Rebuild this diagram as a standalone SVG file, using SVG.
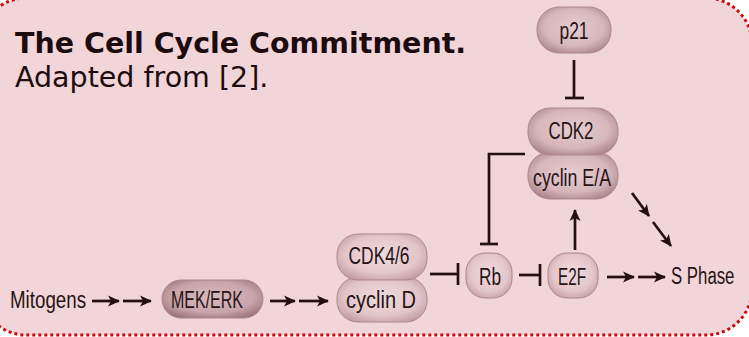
<svg xmlns="http://www.w3.org/2000/svg" width="749" height="337" viewBox="0 0 749 337">
  <defs>
    <radialGradient id="pillLight" cx="50%" cy="45%" r="62%">
      <stop offset="0%" stop-color="#efdadd"/>
      <stop offset="65%" stop-color="#e4c6ca"/>
      <stop offset="100%" stop-color="#c29ba1"/>
    </radialGradient>
    <radialGradient id="pillMid" cx="50%" cy="45%" r="62%">
      <stop offset="0%" stop-color="#e6cdd1"/>
      <stop offset="65%" stop-color="#d6b6bb"/>
      <stop offset="100%" stop-color="#a98288"/>
    </radialGradient>
    <radialGradient id="pillDark" cx="50%" cy="45%" r="62%">
      <stop offset="0%" stop-color="#d9b9be"/>
      <stop offset="65%" stop-color="#c9a5ab"/>
      <stop offset="100%" stop-color="#9b747a"/>
    </radialGradient>
    <marker id="head" viewBox="0 0 12 12" refX="11" refY="6" markerWidth="12" markerHeight="12" markerUnits="userSpaceOnUse" orient="auto">
      <path d="M0,0.5 L12,6 L0,11.5 L3,6 z" fill="#24100f"/>
    </marker>
    <style>
      .pill { stroke: #ad868c; stroke-width: 1; }
      .lbl { font-family: "Liberation Sans", Arial, sans-serif; font-size: 23px; fill: #261416; text-anchor: middle; }
      .plain { font-family: "Liberation Sans", Arial, sans-serif; font-size: 23px; fill: #261416; }
      .line { stroke: #24100f; stroke-width: 2.7; fill: none; }
      .arrow { stroke: #24100f; stroke-width: 2.7; fill: none; marker-end: url(#head); }
      .title { font-family: "DejaVu Sans", Verdana, sans-serif; font-size: 28.5px; fill: #1d0c0f; }
    </style>
  </defs>

  <!-- panel background with dotted frame -->
  <rect x="0" y="0" width="749" height="337" fill="#ffffff"/>
  <rect x="-20" y="-2" width="772" height="337" rx="46" ry="46" fill="#f2d5d8" stroke="#cc0a0a" stroke-width="3" stroke-dasharray="3 3"/>

  <!-- caption -->
  <text class="title" x="15" y="53" font-weight="bold">The Cell Cycle Commitment.</text>
  <text class="title" x="15" y="87">Adapted from [2].</text>

  <!-- connectors -->
  <g id="connectors">
    <line class="arrow" x1="92" y1="301" x2="119" y2="301"/>
    <line class="arrow" x1="123" y1="301" x2="151" y2="301"/>
    <line class="arrow" x1="270" y1="301" x2="295" y2="301"/>
    <line class="arrow" x1="299" y1="301" x2="328" y2="301"/>
    <!-- CDK4/6 - cyclin D inhibits Rb -->
    <line class="line" x1="430" y1="274" x2="458" y2="274"/>
    <line class="line" x1="458" y1="263" x2="458" y2="285"/>
    <!-- Rb inhibits E2F -->
    <line class="line" x1="519" y1="275" x2="540" y2="275"/>
    <line class="line" x1="540" y1="264" x2="540" y2="286"/>
    <!-- E2F activates cyclin E/A -->
    <line class="arrow" x1="575" y1="250" x2="575" y2="210"/>
    <!-- E2F to S phase -->
    <line class="arrow" x1="607" y1="277" x2="634" y2="277"/>
    <line class="arrow" x1="638" y1="277" x2="665" y2="277"/>
    <!-- cyclin E/A to S phase -->
    <line class="arrow" x1="632" y1="193" x2="649" y2="216"/>
    <line class="arrow" x1="653" y1="222" x2="671" y2="246"/>
    <!-- p21 inhibits CDK2 -->
    <line class="line" x1="574" y1="60" x2="574" y2="98"/>
    <line class="line" x1="565" y1="98" x2="584" y2="98"/>
    <!-- CDK2 - cyclin E/A inhibits Rb -->
    <polyline class="line" points="525,154 489,154 489,244"/>
    <line class="line" x1="480" y1="244" x2="498" y2="244"/>
  </g>

  <g id="mitogens">
    <text class="plain" x="10" y="308" textLength="76" lengthAdjust="spacingAndGlyphs">Mitogens</text>
  </g>

  <g id="mek-erk">
    <rect class="pill" x="162" y="280" width="101" height="38" rx="19" fill="url(#pillDark)"/>
    <text class="lbl" x="207" y="308" textLength="72" lengthAdjust="spacingAndGlyphs">MEK/ERK</text>
  </g>

  <g id="cyclin-d">
    <rect class="pill" x="337" y="277" width="90" height="45" rx="21" fill="url(#pillLight)"/>
    <text class="lbl" x="381" y="308" textLength="70" lengthAdjust="spacingAndGlyphs">cyclin D</text>
  </g>

  <g id="cdk46">
    <rect class="pill" x="337" y="234" width="90" height="46" rx="21" fill="url(#pillLight)"/>
    <text class="lbl" x="379" y="264" textLength="61" lengthAdjust="spacingAndGlyphs">CDK4/6</text>
  </g>

  <g id="rb">
    <rect class="pill" x="466" y="253" width="46" height="45" rx="19" fill="url(#pillLight)"/>
    <text class="lbl" x="490" y="285" textLength="22" lengthAdjust="spacingAndGlyphs">Rb</text>
  </g>

  <g id="e2f">
    <rect class="pill" x="548" y="253" width="50" height="45" rx="19" fill="url(#pillLight)"/>
    <text class="lbl" x="572" y="285" textLength="28" lengthAdjust="spacingAndGlyphs">E2F</text>
  </g>

  <g id="cyclin-ea">
    <rect class="pill" x="528" y="152" width="90" height="47" rx="22" fill="url(#pillMid)"/>
    <text class="lbl" x="572" y="186" textLength="78" lengthAdjust="spacingAndGlyphs">cyclin E/A</text>
  </g>

  <g id="cdk2">
    <rect class="pill" x="528" y="108" width="90" height="47" rx="22" fill="url(#pillMid)"/>
    <text class="lbl" x="571" y="139" textLength="45" lengthAdjust="spacingAndGlyphs">CDK2</text>
  </g>

  <g id="p21">
    <rect class="pill" x="537" y="7" width="74" height="46" rx="22" fill="url(#pillMid)"/>
    <text class="lbl" x="574" y="39" textLength="29" lengthAdjust="spacingAndGlyphs">p21</text>
  </g>

  <g id="s-phase">
    <text class="plain" font-size="22" transform="translate(671 284) scale(0.73 1)">S Phase</text>
  </g>
</svg>
